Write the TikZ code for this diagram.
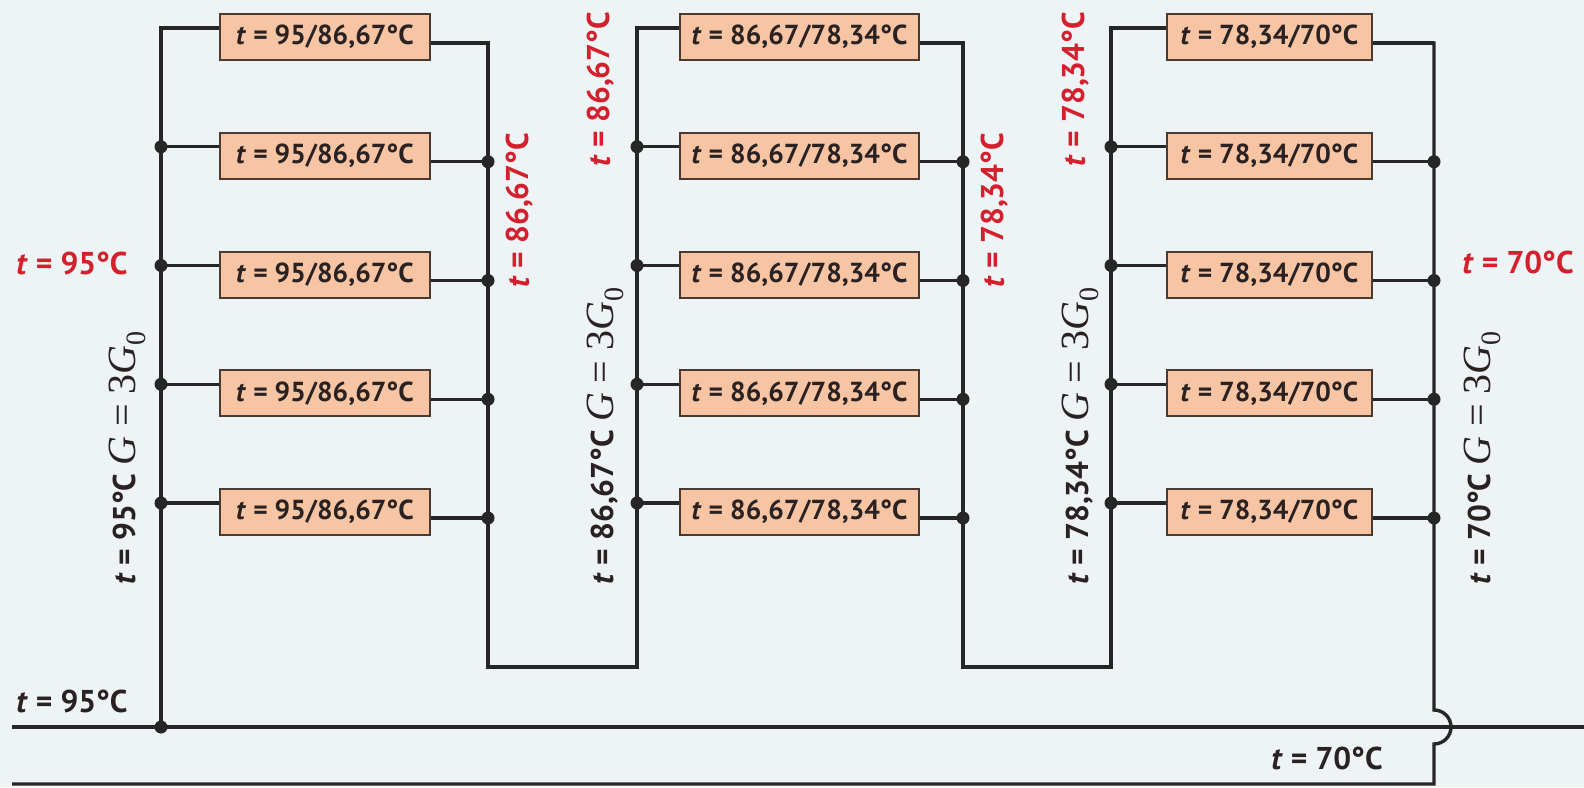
\documentclass[tikz,border=0pt]{standalone}
\usepackage{fontspec}
\setmainfont{PT Sans}
\newfontfamily\serifG{Liberation Serif}
\definecolor{bgc}{HTML}{EEF3F6}
\definecolor{pipec}{HTML}{262626}
\definecolor{boxfill}{HTML}{F8C5A4}
\definecolor{boxline}{HTML}{4A3A32}
\definecolor{lblred}{HTML}{D4202C}
\definecolor{txtc}{HTML}{2A2222}
\newcommand\tv{\textit{t}}
\newcommand\gpart{{\serifG\mdseries\fontsize{40}{42}\selectfont\textit{G} = 3\textit{G}\textsubscript{0}}}
\tikzset{
  pipe/.style={line width=3.4pt, draw=pipec, line join=miter},
  box/.style={draw=boxline, line width=2pt, fill=boxfill, minimum height=46pt, inner sep=0pt, text=txtc, font=\fontsize{27.5}{30}\selectfont\bfseries},
  lbl/.style={inner sep=0pt, text=txtc, font=\fontsize{31.5}{33}\selectfont\bfseries},
  redlbl/.style={lbl, text=lblred},
}
% #1 name, #2 xL, #3 box left, #4 box right, #5 xR, #6 text
\newcommand\drawgroup[6]{%
  \foreach \i in {1,...,5} {
    \pgfmathsetmacro\cy{37+118.75*(\i-1)}
    \node[box, minimum width={(#4-#3)*1pt}] (#1-\i) at ({(#3+#4)/2},\cy) {\tv{} = #6°C};
    \coordinate (#1L-\i) at (#2,\cy-9);
    \coordinate (#1R-\i) at (#5,\cy+6);
    \draw[pipe] (#1L-\i) -- (#1-\i.west |- #1L-\i);
    \draw[pipe] (#1-\i.east |- #1R-\i) -- (#1R-\i);
  }
}
\begin{document}
\begin{tikzpicture}[x=1pt,y=-1pt]
\fill[bgc] (0,0) rectangle (1584,787);
\useasboundingbox (0,0) rectangle (1584,787);

\drawgroup{a}{161}{220}{430}{488}{95/86,67}
\drawgroup{b}{637}{680}{919}{963}{86,67/78,34}
\drawgroup{c}{1111}{1167}{1372}{1434}{78,34/70}

% mains
\coordinate (smW) at (12,727);
\coordinate (smE) at (1584,727);
\coordinate (smJ) at (161,727);
\coordinate (rmW) at (12,784);
\draw[pipe] (smW) -- (smE);

% risers
\coordinate (u1a) at (488,667);
\coordinate (u1b) at (637,667);
\coordinate (u2a) at (963,667);
\coordinate (u2b) at (1111,667);
\coordinate (jt) at (1434,710);
\coordinate (rc) at (1434,784);
\draw[pipe] (a-1.west |- aL-1) -- (aL-1) -- (smJ);
\draw[pipe] (a-1.east |- aR-1) -- (aR-1) -- (u1a) -- (u1b) -- (bL-1) -- (b-1.west |- bL-1);
\draw[pipe] (b-1.east |- bR-1) -- (bR-1) -- (u2a) -- (u2b) -- (cL-1) -- (c-1.west |- cL-1);
\draw[pipe] (c-1.east |- cR-1) -- (cR-1) -- (jt) arc[start angle=-90, end angle=90, radius=17] -- (rc) -- (rmW);

% junctions
\foreach \g in {a,b,c} {
  \foreach \i in {2,...,5} {
    \fill[pipec] (\g L-\i) circle[radius=6.5];
    \fill[pipec] (\g R-\i) circle[radius=6.5];
  }
}
\fill[pipec] (smJ) circle[radius=6.5];

% labels
\node[redlbl] (l95r) at (72,263) {\tv{} = 95°C};
\node[lbl] (l95b) at (72,701) {\tv{} = 95°C};
\node[lbl] (l70b) at (1327,758) {\tv{} = 70°C};
\node[redlbl] (l70r) at (1518,262) {\tv{} = 70°C};

\node[redlbl, rotate=90, anchor=west] (r1) at (520,288) {\tv{} = 86,67°C};
\node[redlbl, rotate=90, anchor=west] (r2) at (601,167) {\tv{} = 86,67°C};
\node[redlbl, rotate=90, anchor=west] (r3) at (995,288) {\tv{} = 78,34°C};
\node[redlbl, rotate=90, anchor=west] (r4) at (1076,167) {\tv{} = 78,34°C};

\node[lbl, rotate=90, anchor=west] (g1) at (127,585) {\tv{} = 95°C \gpart};
\node[lbl, rotate=90, anchor=west] (g2) at (605,585) {\tv{} = 86,67°C \gpart};
\node[lbl, rotate=90, anchor=west] (g3) at (1080,585) {\tv{} = 78,34°C \gpart};
\node[lbl, rotate=90, anchor=west] (g4) at (1482,585) {\tv{} = 70°C \gpart};
\end{tikzpicture}
\end{document}
